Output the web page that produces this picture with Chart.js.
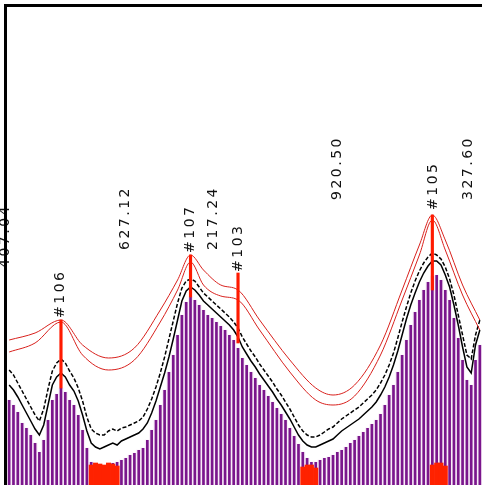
<!DOCTYPE html>
<html>
<head>
<meta charset="utf-8">
<script src="https://cdn.jsdelivr.net/npm/chart.js@4/dist/chart.umd.min.js"></script>
<style>
  body { margin: 0; background: #fff; }
  #wrap { width: 482px; height: 485px; }
</style>
</head>
<body>
<div id="wrap"><canvas id="c" width="482" height="485"></canvas></div>
<script>
// spektrum - vyska sloupcu (relativni jednotky)
const barValues = [
  85, 80, 73, 62, 57, 50, 42, 33, 45, 65,
  85, 91, 97, 93, 85, 80, 70, 55, 37, 23,
  17, 18, 19, 22, 22, 23, 25, 27, 30, 32,
  35, 37, 45, 55, 65, 80, 95, 113, 130, 150,
  170, 183, 188, 185, 180, 175, 170, 167, 163, 159,
  155, 150, 145, 137, 127, 120, 113, 107, 100, 95,
  89, 83, 77, 71, 65, 57, 49, 41, 33, 27,
  23, 23, 25, 27, 28, 30, 33, 35, 38, 42,
  45, 49, 53, 57, 61, 65, 71, 80, 90, 100,
  113, 130, 145, 160, 173, 185, 195, 203, 209, 210,
  205, 195, 185, 167, 147, 125, 105, 100, 125, 140
];
// obalky (cerne krivky)
const innerEnvelope = [
  100, 95, 88, 80, 72, 64, 56, 50, 60, 80,
  100, 108, 112, 108, 100, 94, 84, 70, 54, 42,
  38, 36, 38, 40, 42, 40, 44, 46, 48, 50,
  52, 56, 62, 72, 84, 98, 112, 128, 146, 165,
  184, 194, 198, 195, 190, 184, 180, 176, 172, 168,
  164, 160, 155, 148, 138, 131, 124, 118, 111, 105,
  99, 93, 86, 80, 73, 66, 58, 50, 44, 40,
  38, 38, 40, 42, 44, 46, 50, 54, 57, 60,
  63, 66, 70, 74, 78, 83, 90, 98, 108, 120,
  134, 150, 166, 180, 192, 203, 212, 219, 224, 224,
  220, 210, 198, 180, 160, 138, 118, 112, 140, 155
];
const outerEnvelope = [
  115, 110, 102, 94, 86, 78, 70, 64, 76, 96,
  114, 122, 126, 122, 114, 107, 97, 84, 68, 56,
  52, 50, 50, 54, 56, 54, 57, 58, 60, 62,
  64, 68, 76, 86, 98, 112, 128, 146, 164, 182,
  197, 204, 206, 204, 198, 192, 188, 184, 180, 176,
  172, 168, 163, 157, 148, 141, 134, 128, 121, 115,
  109, 103, 96, 90, 83, 76, 68, 60, 54, 50,
  48, 48, 50, 53, 56, 58, 62, 66, 69, 72,
  75, 78, 82, 86, 90, 95, 102, 110, 120, 132,
  147, 163, 178, 192, 204, 214, 222, 228, 232, 230,
  226, 218, 206, 190, 170, 150, 130, 126, 150, 165
];
// cervene krivky - body na indexech
const redIdx   = [0, 6, 12, 17, 23, 29, 35, 39, 42, 45, 49, 53, 58, 65, 71, 75, 80, 86, 91, 95, 98, 101, 105, 109];
const redUpper = [145, 152, 165, 140, 127, 137, 175, 205, 230, 215, 200, 195, 165, 125, 97, 90, 100, 140, 195, 240, 270, 245, 200, 165];
const redLower = [133, 142, 163, 130, 115, 125, 163, 195, 223, 200, 189, 185, 155, 113, 85, 80, 89, 130, 185, 230, 265, 235, 190, 155];
// cervene bloky u zakladny
const blockIdx = [19, 20, 21, 22, 23, 24, 25, 68, 69, 70, 71, 98, 99, 100, 101];
const blockVal = [20, 22, 21, 20, 22, 21, 19, 18, 20, 20, 17, 20, 22, 22, 19];
// svisle znacky piku [od, do]
const stemIdx = [12, 42, 53, 98];
const stemRange = [[97, 165], [188, 230], [142, 212], [195, 270]];
// popisky piku
const peakTexts = ['407.04', '#106', '627.12', '#107', '217.24', '#103', '920.50', '#105', '327.60'];
const peakIdx   = [-0.9, 11.8, 26.8, 41.9, 47.2, 53, 75.9, 98.2, 106.3];
const peakVal   = [217, 167, 235, 232, 235, 213, 285, 275, 285];

const categories = barValues.map((_, i) => String(i + 1));

function sparse(idx, vals) {
    const arr = Array(categories.length).fill(null);
    idx.forEach((k, j) => { arr[k] = vals[j]; });
    return arr;
}

const frame = {
    id: 'frame',
    afterDraw(chart) {
        const {ctx, chartArea} = chart;
        ctx.save();
        ctx.strokeStyle = '#000';
        ctx.lineWidth = 3;
        ctx.beginPath();
        ctx.moveTo(chartArea.left - 1.5, chartArea.bottom);
        ctx.lineTo(chartArea.left - 1.5, chartArea.top - 1.5);
        ctx.lineTo(chartArea.right, chartArea.top - 1.5);
        ctx.stroke();
        ctx.restore();
    }
};

const peakLabels = {
    id: 'peakLabels',
    afterDatasetsDraw(chart) {
        const {ctx} = chart;
        const xs = chart.scales.x, ys = chart.scales.y;
        ctx.save();
        ctx.fillStyle = '#111';
        ctx.font = '14px "DejaVu Sans"';
        ctx.letterSpacing = '2.5px';
        ctx.textAlign = 'left';
        ctx.textBaseline = 'middle';
        peakTexts.forEach((t, j) => {
            ctx.save();
            ctx.translate(xs.getPixelForValue(peakIdx[j]), ys.getPixelForValue(peakVal[j]));
            ctx.rotate(-Math.PI / 2);
            ctx.fillText(t, 0, 0);
            ctx.restore();
        });
        ctx.restore();
    }
};

new Chart(document.getElementById('c'), {
    type: 'bar',
    data: {
        labels: categories,
        datasets: [
            {
                data: barValues,
                backgroundColor: '#f8ecf7',
                barPercentage: 1, categoryPercentage: 1,
                grouped: false, order: 10
            },
            {
                data: barValues,
                backgroundColor: '#7a168c',
                barPercentage: 0.62, categoryPercentage: 1,
                grouped: false, order: 9
            },
            {
                data: sparse(blockIdx, blockVal),
                backgroundColor: '#ff2200',
                barPercentage: 1, categoryPercentage: 1,
                grouped: false, order: 5
            },
            {
                type: 'line',
                data: innerEnvelope,
                borderColor: '#000',
                borderWidth: 1.5,
                pointRadius: 0,
                order: 4
            },
            {
                type: 'line',
                data: outerEnvelope,
                borderColor: '#000',
                borderWidth: 1.5,
                borderDash: [4, 2],
                pointRadius: 0,
                order: 4
            },
            {
                type: 'line',
                data: sparse(redIdx, redUpper),
                borderColor: '#d8201c',
                borderWidth: 1,
                pointRadius: 0,
                spanGaps: true,
                cubicInterpolationMode: 'monotone',
                order: 3
            },
            {
                type: 'line',
                data: sparse(redIdx, redLower),
                borderColor: '#d8201c',
                borderWidth: 1,
                pointRadius: 0,
                spanGaps: true,
                cubicInterpolationMode: 'monotone',
                order: 3
            },
            {
                data: sparse(stemIdx, stemRange),
                backgroundColor: '#ff1a00',
                barThickness: 2.5,
                grouped: false, order: 2
            }
        ]
    },
    options: {
        responsive: false,
        animation: false,
        layout: { padding: { left: 7, top: 7, right: 0, bottom: 0 } },
        plugins: { legend: { display: false }, tooltip: { enabled: false } },
        scales: {
            x: { display: false },
            y: { display: false, min: 0, max: 478 }
        }
    },
    plugins: [frame, peakLabels]
});
</script>
</body>
</html>
